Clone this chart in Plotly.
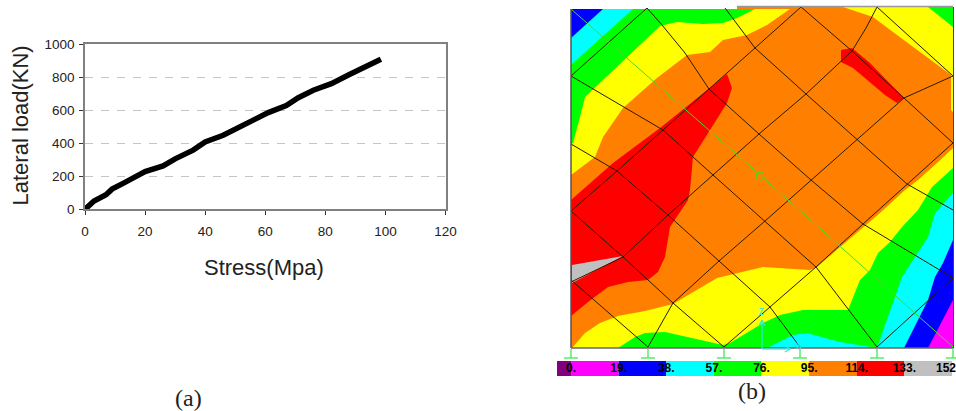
import plotly.graph_objects as go

W, H = 956, 411

# ---- chart (a) ----
stress = [0, 1, 3, 7, 9, 13, 16, 20, 26, 30, 36, 40, 46, 51, 56, 61, 67, 71, 76, 82, 88, 93, 98.5]
load = [0, 15, 50, 88, 122, 160, 190, 228, 262, 305, 358, 408, 448, 492, 540, 585, 628, 675, 720, 760, 815, 860, 908]
x_ticks = [0, 20, 40, 60, 80, 100, 120]
y_ticks = [0, 200, 400, 600, 800, 1000]

# ---- chart (b): contour bands ----
ORANGE, YELLOW, GREEN, CYAN, BLUE, MAGENTA, RED, GRAY, PURPLE = (
    "#ff8000", "#ffff00", "#00ff00", "#00ffff", "#0000ff", "#ff00ff", "#ff0000", "#c0c0c0", "#800080")

band_base = [(571, 9), (737, 9), (737, 7), (953, 7), (953, 348), (571, 348)]
band_tl_yellow = [(571, 9), (790, 9), (767, 25), (747, 35), (723, 40), (710, 52), (687, 55), (657, 78),
                  (623, 108), (603, 137), (595, 157), (571, 175)]
band_tl_green = [(571, 9), (755, 9), (737, 18), (723, 23), (703, 24), (677, 22), (660, 26), (627, 57),
                 (595, 87), (585, 97), (580, 117), (573, 143), (571, 144)]
band_tl_cyan = [(571, 9), (633, 9), (571, 65)]
band_tl_blue = [(571, 9), (603, 9), (571, 38)]
band_tr_yellow = [(843, 7), (860, 13), (873, 17), (893, 32), (927, 57), (951, 75), (951, 110), (953, 112), (953, 7)]
band_tr_green = [(928, 7), (953, 7), (953, 27)]
band_br_yellow = [(572, 348), (585, 333), (600, 323), (618, 316), (645, 311), (673, 304), (717, 278),
                  (763, 267), (810, 270), (817, 267), (860, 230), (880, 213), (905, 190), (918, 180),
                  (937, 163), (953, 148), (953, 348)]
band_br_green = [(618, 348), (635, 337), (645, 333), (665, 332), (723, 345), (730, 343), (763, 323), (780, 315),
                 (803, 310), (848, 310), (860, 280), (870, 270), (878, 253), (890, 242), (902, 227),
                 (918, 210), (932, 187), (953, 168), (953, 348)]
band_b_cyan = [(767, 348), (793, 335), (807, 333), (840, 342), (877, 348)]
band_br_cyan = [(877, 348), (895, 297), (902, 277), (915, 257), (928, 237), (935, 213), (953, 193), (953, 348)]
band_br_blue = [(904, 348), (928, 300), (935, 277), (943, 263), (953, 240), (953, 348)]
band_br_magenta = [(928, 348), (953, 300), (953, 348)]
band_l_red = [(571, 200), (613, 163), (660, 128), (727, 74), (732, 88), (727, 103), (693, 157), (690, 190),
              (688, 200), (670, 227), (665, 257), (658, 272), (648, 280), (628, 282), (608, 287),
              (588, 302), (571, 316)]
band_tr_red = [(841, 50), (852, 48), (870, 63), (904, 98), (897, 103), (885, 95), (853, 68), (841, 62)]
band_gray = [(572, 265), (623, 256), (572, 283)]

bands = [
    (band_base, ORANGE), (band_tl_yellow, YELLOW), (band_tl_green, GREEN), (band_tl_cyan, CYAN),
    (band_tl_blue, BLUE), (band_tr_yellow, YELLOW), (band_tr_green, GREEN), (band_br_yellow, YELLOW),
    (band_br_green, GREEN), (band_b_cyan, CYAN), (band_br_cyan, CYAN), (band_br_blue, BLUE),
    (band_br_magenta, MAGENTA), (band_l_red, RED), (band_tr_red, RED), (band_gray, GRAY),
]

mesh_lines = [
    [(571, 76), (663, 130), (713, 175), (765, 221), (816, 267), (877, 347)],
    [(571, 144), (617, 171), (668, 215), (719, 261), (770, 307), (800, 347)],
    [(571, 211), (623, 257), (673, 303), (724, 347)],
    [(571, 280), (648, 347)],
    [(647, 8), (662, 25), (685, 53), (709, 89), (759, 134), (811, 180), (863, 224), (953, 278)],
    [(725, 8), (755, 48), (806, 94), (857, 139), (907, 184), (953, 210)],
    [(801, 7), (852, 51), (904, 98), (953, 143)],
    [(877, 7), (953, 76)],
    [(571, 76), (647, 8)],
    [(571, 211), (617, 171), (663, 130), (709, 89), (755, 48), (801, 7)],
    [(571, 282), (623, 257), (668, 215), (713, 175), (759, 134), (806, 94), (852, 51), (866, 28), (877, 7)],
    [(673, 303), (719, 261), (765, 221), (811, 180), (857, 139), (904, 98), (953, 76)],
    [(724, 347), (770, 307), (816, 267), (863, 224), (907, 184), (953, 143)],
    [(648, 347), (673, 303)],
    [(877, 347), (953, 278)],
]
center_line = [(571, 9), (760, 175), (953, 347)]
center_mark = (760, 176)
supports_x = [571, 648, 724, 800, 877, 953]

scale_edges = [-5.6, 0, 19, 38, 57, 76, 95, 114, 133, 152]
scale_colors = [PURPLE, MAGENTA, BLUE, CYAN, GREEN, YELLOW, ORANGE, RED, GRAY]
scale_values = [0, 19, 38, 57, 76, 95, 114, 133, 152]
scale_labels = ["0.", "19.", "38.", "57.", "76.", "95.", "114.", "133.", "152"]
scale_label_pos = [0, 19, 38, 57, 76, 95, 114, 133, 149.6]


def xs(pts):
    return [p[0] for p in pts]


def ys(pts):
    return [p[1] for p in pts]


fig = go.Figure()

fig.add_trace(go.Scatter(x=stress, y=load, mode="lines", xaxis="x", yaxis="y",
                         line=dict(color="#000000", width=5.5), showlegend=False, hoverinfo="skip"))

for pts, col in bands:
    fig.add_trace(go.Scatter(x=xs(pts), y=ys(pts), mode="lines", fill="toself", fillcolor=col,
                             line=dict(width=0, color=col), xaxis="x2", yaxis="y2",
                             showlegend=False, hoverinfo="skip"))

for pts in mesh_lines:
    fig.add_trace(go.Scatter(x=xs(pts), y=ys(pts), mode="lines", line=dict(color="#2a1a00", width=1),
                             xaxis="x2", yaxis="y2", showlegend=False, hoverinfo="skip"))

SUP = "#55ee66"
fig.add_trace(go.Scatter(x=xs(center_line), y=ys(center_line), mode="lines", line=dict(color="#44dd22", width=1),
                         xaxis="x2", yaxis="y2", showlegend=False, hoverinfo="skip"))
fig.add_trace(go.Scatter(x=[center_mark[0]], y=[center_mark[1]], mode="markers",
                         marker=dict(symbol="circle-open", size=8, color="#44dd22", line=dict(width=1)),
                         xaxis="x2", yaxis="y2", showlegend=False, hoverinfo="skip"))

# frame
frame_parts = [
    ([571, 571], [9, 348], "#555555", 1.5),
    ([571, 953.5], [348, 348], "#666666", 1.5),
    ([953.5, 953.5], [7, 348], "#444444", 1),
    ([737, 953], [6.5, 6.5], "#999999", 1.5),
]
for fx, fy, col, wd in frame_parts:
    fig.add_trace(go.Scatter(x=fx, y=fy, mode="lines", line=dict(color=col, width=wd),
                             xaxis="x2", yaxis="y2", showlegend=False, hoverinfo="skip"))

# supports
for sx in supports_x:
    fig.add_trace(go.Scatter(x=[sx, sx, None, sx - 7, sx + 7], y=[349, 358, None, 358, 358], mode="lines",
                             line=dict(color=SUP, width=1.5), xaxis="x2", yaxis="y2",
                             showlegend=False, hoverinfo="skip"))

# global axes glyph
CY = "#22eeee"
fig.add_trace(go.Scatter(x=[762, 762, None, 759, 762, 765, None, 762, 790, None, 785, 790, 785],
                         y=[349, 321, None, 326, 320, 326, None, 349, 349, None, 352, 349, 346], mode="lines",
                         line=dict(color=CY, width=1.2), xaxis="x2", yaxis="y2",
                         showlegend=False, hoverinfo="skip"))
fig.add_trace(go.Scatter(x=[761, 799], y=[313, 347], mode="text", text=["Z", "X"],
                         textfont=dict(family="DejaVu Sans Mono", size=9, color=CY), textposition="middle center",
                         xaxis="x2", yaxis="y2", showlegend=False, hoverinfo="skip", cliponaxis=False))

# colour scale
for lo, hi, col in zip(scale_edges[:-1], scale_edges[1:], scale_colors):
    fig.add_trace(go.Bar(x=[hi - lo], base=[lo], y=[0.5], width=[1], orientation="h",
                         marker=dict(color=col, line=dict(width=0)), xaxis="x3", yaxis="y3",
                         showlegend=False, hoverinfo="skip"))
fig.add_trace(go.Scatter(x=scale_label_pos, y=[0.5] * len(scale_values), mode="text", text=scale_labels,
                         textposition="middle center",
                         textfont=dict(family="Liberation Sans", size=12, color="#000000", weight="bold"),
                         xaxis="x3", yaxis="y3", showlegend=False, hoverinfo="skip", cliponaxis=False))

TICK = dict(family="Liberation Sans", size=13.5, color="#222222")
TITLE = dict(family="Liberation Sans", size=22, color="#222222")

fig.update_layout(
    width=W, height=H, autosize=False, margin=dict(l=0, r=0, t=0, b=0, pad=0),
    paper_bgcolor="#ffffff", plot_bgcolor="#ffffff", barmode="overlay", showlegend=False,
    xaxis=dict(domain=[85 / W, 445.5 / W], range=[0, 120], tickvals=x_ticks, ticks="outside", ticklen=4,
               tickcolor="#333333", showgrid=False, zeroline=False, showline=True, mirror=True,
               linecolor="#808080", linewidth=1.5, tickfont=TICK, anchor="y", automargin=False,
               ticklabelstandoff=5),
    yaxis=dict(domain=[1 - 209.3 / H, 1 - 44 / H], range=[0, 1000], tickvals=y_ticks, ticks="outside", ticklen=4,
               tickcolor="#333333", showgrid=True, gridcolor="#c4c4c4", griddash="8px,8px", gridwidth=1,
               zeroline=False, showline=True, mirror=True, linecolor="#808080", linewidth=1.5,
               tickfont=TICK, anchor="x", automargin=False, ticklabelstandoff=2),
    xaxis2=dict(domain=[557 / W, 1], range=[557, 956], visible=False, anchor="y2"),
    yaxis2=dict(domain=[0, 1], range=[411, 0], visible=False, anchor="x2"),
    xaxis3=dict(domain=[557 / W, 1], range=[-5.6, 153.6], visible=False, anchor="y3"),
    yaxis3=dict(domain=[1 - 376 / H, 1 - 361 / H], range=[0, 1], visible=False, anchor="x3"),
    annotations=[
        dict(text="Stress(Mpa)", x=263.5 / W, y=1 - 267 / H, xref="paper", yref="paper", showarrow=False,
             font=TITLE, xanchor="center", yanchor="middle"),
        dict(text="Lateral load(KN)", x=20 / W, y=1 - 125.5 / H, xref="paper", yref="paper", showarrow=False,
             font=TITLE, xanchor="center", yanchor="middle", textangle=-90),
        dict(text="(a)", x=188.5 / W, y=1 - 398 / H, xref="paper", yref="paper", showarrow=False,
             font=dict(family="Liberation Serif", size=24, color="#222222"), xanchor="center", yanchor="middle"),
        dict(text="(b)", x=752 / W, y=1 - 391 / H, xref="paper", yref="paper", showarrow=False,
             font=dict(family="Liberation Serif", size=24, color="#222222"), xanchor="center", yanchor="middle"),
    ],
)

fig.write_html("out.html", config=dict(displayModeBar=False),
               post_script="document.body.style.margin='0';document.body.style.overflow='hidden';")
